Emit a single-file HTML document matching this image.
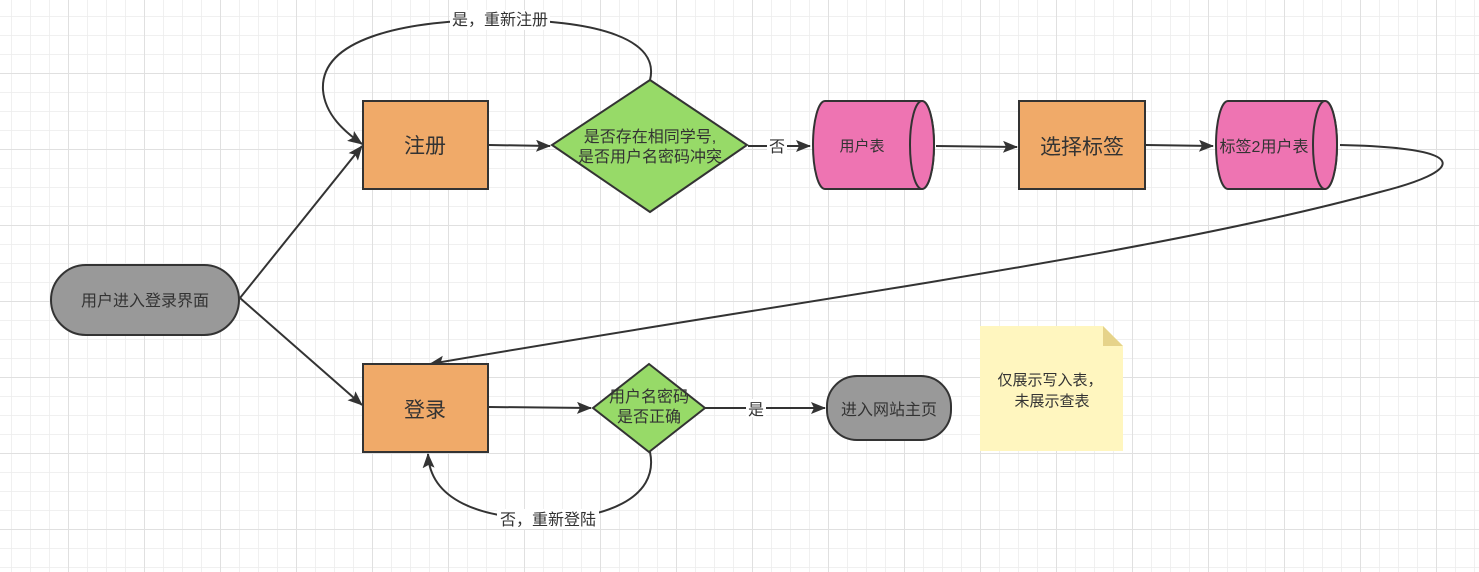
<!DOCTYPE html>
<html><head><meta charset="utf-8"><style>
html,body{margin:0;padding:0;background:#fff;}
svg{display:block;font-family:"Liberation Sans","Noto Sans CJK SC",sans-serif;}
</style></head><body>
<svg width="1479" height="572" viewBox="0 0 1479 572" xmlns="http://www.w3.org/2000/svg">
<defs>
<pattern id="minor" x="11" y="16" width="19" height="19" patternUnits="userSpaceOnUse">
<path d="M0 0 H19 M0 0 V19" stroke="#ececec" stroke-width="1.5" fill="none"/>
</pattern>
<pattern id="major" x="68" y="73" width="76" height="76" patternUnits="userSpaceOnUse">
<path d="M0 0 H76 M0 0 V76" stroke="#e0e0e0" stroke-width="2" fill="none"/>
</pattern>
<marker id="ar" markerWidth="15" markerHeight="12" refX="14" refY="6" orient="auto" markerUnits="userSpaceOnUse">
<path d="M0,0 L15,6 L0,12 L3,6 Z" fill="#333"/>
</marker>
</defs>
<rect width="1479" height="572" fill="url(#minor)"/>
<rect width="1479" height="572" fill="url(#major)"/>

<g stroke="#333" stroke-width="2" fill="none">
<path d="M240,298 L362,146" marker-end="url(#ar)"/>
<path d="M240,298 L362,405" marker-end="url(#ar)"/>
<path d="M489,145 L550,146" marker-end="url(#ar)"/>
<path d="M748,146 L810,146" marker-end="url(#ar)"/>
<path d="M936,146 L1017,147" marker-end="url(#ar)"/>
<path d="M1146,145 L1213,146" marker-end="url(#ar)"/>
<path d="M1340,145 C1480,148 1460,172 1380,192 C1150,255 800,300 430,364" marker-end="url(#ar)"/>
<path d="M650,80 C660,40 600,20 500,20 C400,20 320,40 323,90 C325,115 345,132 362,144" marker-end="url(#ar)"/>
<path d="M489,407 L591,408" marker-end="url(#ar)"/>
<path d="M705,408 L825,408" marker-end="url(#ar)"/>
<path d="M650,452 C660,500 600,519 548,519 C480,519 430,500 428,454" marker-end="url(#ar)"/>
</g>

<rect x="51" y="265" width="188" height="70" rx="35" fill="#999" stroke="#333" stroke-width="2"/>
<text x="145" y="306" font-size="16" fill="#333" text-anchor="middle">用户进入登录界面</text>

<rect x="363" y="101" width="125" height="88" fill="#F0AA69" stroke="#333" stroke-width="2"/>
<text x="425" y="153" font-size="21" fill="#333" text-anchor="middle">注册</text>

<polygon points="650,80 747,145 650,212 552,145" fill="#97DA68" stroke="#333" stroke-width="2"/>
<text x="650" y="142" font-size="16" fill="#333" text-anchor="middle">是否存在相同学号,</text>
<text x="650" y="162" font-size="16" fill="#333" text-anchor="middle">是否用户名密码冲突</text>

<path d="M825,101 H922 A12,44 0 0 1 922,189 H825 A12,44 0 0 1 825,101 Z" fill="#EE74B2" stroke="#333" stroke-width="2"/>
<ellipse cx="922" cy="145" rx="12" ry="44" fill="#EE74B2" stroke="#333" stroke-width="2"/>
<text x="862" y="151" font-size="15" fill="#333" text-anchor="middle">用户表</text>

<rect x="1019" y="101" width="126" height="88" fill="#F0AA69" stroke="#333" stroke-width="2"/>
<text x="1082" y="154" font-size="21" fill="#333" text-anchor="middle">选择标签</text>

<path d="M1228,101 H1325 A12,44 0 0 1 1325,189 H1228 A12,44 0 0 1 1228,101 Z" fill="#EE74B2" stroke="#333" stroke-width="2"/>
<ellipse cx="1325" cy="145" rx="12" ry="44" fill="#EE74B2" stroke="#333" stroke-width="2"/>
<text x="1264" y="152" font-size="16" fill="#333" text-anchor="middle">标签2用户表</text>

<rect x="363" y="364" width="125" height="88" fill="#F0AA69" stroke="#333" stroke-width="2"/>
<text x="425" y="417" font-size="21" fill="#333" text-anchor="middle">登录</text>

<polygon points="649,364 705,408 649,452 593,408" fill="#97DA68" stroke="#333" stroke-width="2"/>
<text x="649" y="402" font-size="16" fill="#333" text-anchor="middle">用户名密码</text>
<text x="649" y="422" font-size="16" fill="#333" text-anchor="middle">是否正确</text>

<rect x="827" y="376" width="124" height="64" rx="30" fill="#999" stroke="#333" stroke-width="2"/>
<text x="889" y="415" font-size="16" fill="#333" text-anchor="middle">进入网站主页</text>

<path d="M980,326 H1103 L1123,346 V451 H980 Z" fill="#FFF6BF"/>
<path d="M1103,326 L1123,346 H1103 Z" fill="#E6D38A"/>
<text x="1050" y="385" font-size="15" fill="#333" text-anchor="middle">仅展示写入表，</text>
<text x="1052" y="406" font-size="15" fill="#333" text-anchor="middle">未展示查表</text>

<rect x="450" y="10" width="100" height="20" fill="#fff"/>
<text x="500" y="25" font-size="16" fill="#333" text-anchor="middle">是，重新注册</text>
<rect x="767" y="137" width="20" height="18" fill="#fff"/>
<text x="777" y="152" font-size="16" fill="#333" text-anchor="middle">否</text>
<rect x="746" y="399" width="20" height="18" fill="#fff"/>
<text x="756" y="415" font-size="16" fill="#333" text-anchor="middle">是</text>
<rect x="497" y="509" width="102" height="20" fill="#fff"/>
<text x="548" y="525" font-size="16" fill="#333" text-anchor="middle">否，重新登陆</text>
</svg>
</body></html>
